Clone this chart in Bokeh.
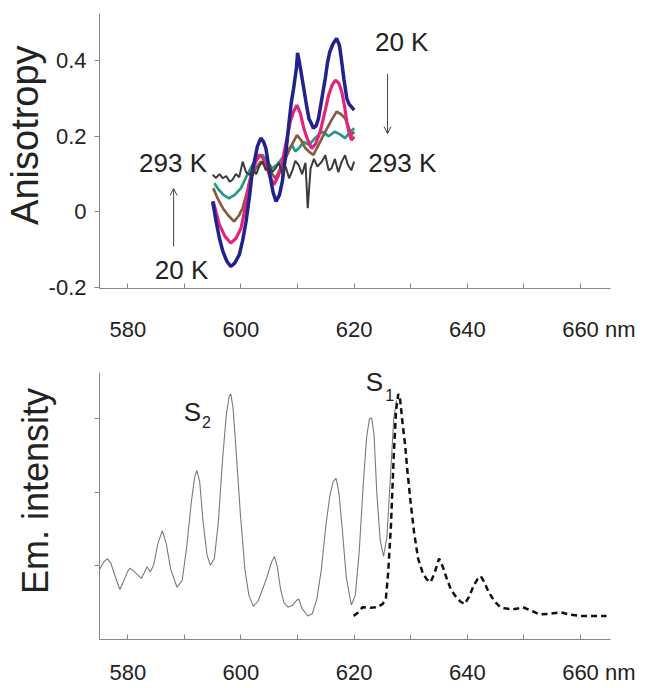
import math
from bokeh.plotting import figure
from bokeh.models import Range1d, FixedTicker, Label, Arrow, OpenHead
from bokeh.layouts import column
from bokeh.embed import file_html
from bokeh.resources import INLINE

# ---------------- data ----------------
# Top panel: anisotropy vs wavelength (nm) at several temperatures
blue_x = [595.0, 595.6, 596.2, 596.8, 597.5, 598.2, 598.9, 599.7, 600.3, 600.9, 601.5, 602.0, 602.9, 603.5, 604.0, 604.4,
          604.8, 605.2, 605.7, 606.2, 606.8, 607.3, 607.9, 608.5, 608.9, 609.3, 609.8, 610.0, 610.2, 610.5, 611.1, 611.6,
          612.0, 612.4, 612.8, 613.3, 613.7, 614.3, 614.9, 615.3, 615.7, 616.3, 616.9, 617.4, 617.8, 618.2, 618.7, 619.1,
          619.5, 620.0]
blue_y = [0.028, -0.025, -0.070, -0.104, -0.130, -0.144, -0.135, -0.113, -0.075, -0.025, 0.040, 0.107, 0.173, 0.195, 0.185, 0.168,
          0.130, 0.089, 0.050, 0.028, 0.045, 0.080, 0.150, 0.238, 0.290, 0.326, 0.380, 0.420, 0.405, 0.380, 0.326, 0.280,
          0.247, 0.235, 0.221, 0.228, 0.247, 0.300, 0.353, 0.395, 0.423, 0.445, 0.458, 0.440, 0.397, 0.350, 0.300, 0.285,
          0.278, 0.269]

pink_x = [595.1, 595.6, 596.2, 597.2, 598.2, 599.1, 600.0, 600.8, 601.5, 602.4, 603.2, 603.8, 604.4, 605.1, 605.8, 606.6,
          607.3, 608.0, 608.7, 609.3, 609.9, 610.5, 611.1, 611.8, 612.5, 613.2, 614.0, 614.8, 615.5, 616.1, 616.7, 617.3,
          617.8, 618.3, 618.7, 619.1, 619.5, 620.0]
pink_y = [0.028, 0.000, -0.034, -0.065, -0.082, -0.070, -0.043, 0.015, 0.080, 0.125, 0.151, 0.145, 0.124, 0.095, 0.072, 0.095,
          0.133, 0.185, 0.238, 0.265, 0.282, 0.260, 0.221, 0.190, 0.168, 0.180, 0.212, 0.262, 0.309, 0.335, 0.348, 0.340,
          0.318, 0.280, 0.238, 0.210, 0.190, 0.199]

brown_x = [595.1, 595.9, 596.8, 597.8, 598.8, 599.6, 600.3, 601.0, 601.7, 602.6, 603.5, 604.3, 605.0, 605.6, 606.1, 607.0,
           607.9, 608.9, 609.9, 610.6, 611.4, 612.1, 612.8, 613.8, 614.9, 615.9, 616.9, 617.7, 618.4, 619.0, 619.5, 620.0]
brown_y = [0.063, 0.035, 0.010, -0.010, -0.025, -0.010, 0.010, 0.050, 0.089, 0.115, 0.133, 0.125, 0.111, 0.098, 0.089, 0.115,
           0.142, 0.175, 0.203, 0.190, 0.168, 0.158, 0.151, 0.180, 0.212, 0.240, 0.265, 0.258, 0.247, 0.225, 0.203, 0.212]

teal_x = [595.3, 596.0, 596.9, 597.9, 598.9, 600.0, 601.0, 602.0, 602.9, 603.8, 604.6, 605.5, 606.4, 607.3, 608.2, 609.0,
          609.6, 610.2, 611.1, 612.0, 613.1, 614.3, 615.5, 616.6, 617.5, 618.4, 619.2, 620.0]
teal_y = [0.076, 0.060, 0.045, 0.036, 0.045, 0.063, 0.095, 0.124, 0.140, 0.151, 0.135, 0.115, 0.125, 0.142, 0.160, 0.177,
          0.160, 0.168, 0.185, 0.177, 0.195, 0.212, 0.200, 0.212, 0.205, 0.195, 0.210, 0.221]

gray_x = [595.0, 595.6, 596.2, 596.8, 597.4, 598.0, 598.5, 599.1, 599.7, 600.3, 600.9, 601.5, 602.1, 602.7, 603.2, 603.8,
          604.4, 605.0, 605.5, 606.1, 606.7, 607.3, 607.9, 608.5, 609.1, 609.6, 610.2, 610.8, 611.4, 611.8, 612.3, 612.9,
          613.5, 614.3, 614.9, 615.5, 616.0, 616.6, 617.2, 617.8, 618.4, 618.9, 619.5, 620.0]
gray_y = [0.098, 0.090, 0.100, 0.089, 0.095, 0.080, 0.085, 0.100, 0.092, 0.133, 0.105, 0.098, 0.112, 0.100, 0.120, 0.133,
          0.110, 0.125, 0.105, 0.115, 0.130, 0.100, 0.120, 0.089, 0.110, 0.135, 0.124, 0.100, 0.130, 0.010, 0.115, 0.140,
          0.120, 0.133, 0.150, 0.110, 0.115, 0.140, 0.105, 0.133, 0.150, 0.124, 0.110, 0.133]

# Bottom panel: emission intensity (arbitrary units)
em_x = [575.0, 575.7, 576.4, 577.0, 577.8, 578.6, 579.3, 580.0, 580.4, 581.2, 582.4, 583.0, 583.4, 584.0, 584.6, 585.3,
        586.1, 586.8, 587.6, 588.7, 589.6, 590.4, 591.2, 591.8, 592.2, 592.7, 593.3, 594.0, 594.6, 595.3, 596.0, 596.7,
        597.4, 597.9, 598.2, 598.6, 599.2, 599.9, 600.7, 601.4, 602.2, 603.0, 603.8, 604.6, 605.4, 605.9, 606.4, 607.0,
        607.6, 608.3, 609.2, 609.8, 610.2, 610.8, 611.8, 612.6, 613.4, 614.2, 615.0, 615.7, 616.3, 616.8, 617.3, 617.9,
        618.6, 619.5, 620.2, 620.9, 621.6, 622.2, 622.7, 623.1, 623.5, 624.0, 624.6, 625.2, 625.8, 626.4, 627.0, 627.5]
em_y = [0.95, 1.05, 1.10, 1.04, 0.85, 0.68, 0.80, 0.93, 0.97, 0.92, 0.83, 0.92, 0.99, 0.92, 1.02, 1.30,
        1.48, 1.30, 0.95, 0.71, 0.80, 1.25, 1.85, 2.20, 2.30, 2.15, 1.60, 1.15, 1.01, 1.10, 1.60, 2.40,
        3.05, 3.30, 3.34, 3.15, 2.50, 1.70, 0.95, 0.60, 0.45, 0.52, 0.68, 0.85, 1.05, 1.13, 1.00, 0.68,
        0.50, 0.44, 0.47, 0.53, 0.55, 0.42, 0.32, 0.35, 0.55, 0.95, 1.55, 1.95, 2.15, 2.19, 2.00, 1.50,
        0.85, 0.47, 0.60, 1.20, 2.10, 2.75, 3.00, 3.01, 2.80, 2.00, 1.35, 1.13, 1.40, 2.20, 3.00, 3.25]

dash_x = [619.9, 620.6, 621.5, 622.8, 624.1, 625.0, 625.6, 626.0, 626.5, 627.0, 627.4, 627.8, 628.1, 628.5, 629.0, 629.4,
          630.0, 630.6, 631.3, 632.1, 632.8, 633.5, 634.2, 635.0, 635.6, 636.4, 637.1, 637.9, 638.7, 639.5, 640.3, 641.1,
          641.8, 642.4, 643.0, 643.8, 644.8, 645.8, 646.9, 647.9, 648.9, 649.8, 651.0, 652.8, 654.5, 656.4, 658.0, 659.9,
          662.0, 664.6]
dash_y = [0.32, 0.36, 0.44, 0.43, 0.44, 0.48, 0.55, 0.90, 1.54, 2.50, 3.11, 3.34, 3.28, 2.98, 2.65, 2.30,
          1.85, 1.45, 1.10, 0.91, 0.82, 0.78, 0.90, 1.10, 1.00, 0.82, 0.68, 0.59, 0.52, 0.48, 0.58, 0.73,
          0.82, 0.86, 0.78, 0.64, 0.52, 0.44, 0.42, 0.41, 0.42, 0.44, 0.40, 0.34, 0.35, 0.37, 0.34, 0.32,
          0.32, 0.32]

NB = "\u00a0"
x_ticks = [580, 590, 600, 610, 620, 630, 640, 650, 660]
x_tick_labels = {580: "580", 590: "", 600: "600", 610: "", 620: "620", 630: "", 640: "640", 650: "",
                 660: NB * 6 + "660 nm"}
top_y_ticks = [-0.2, 0, 0.2, 0.4]
top_y_labels = {-0.2: "-0.2", 0: "0", 0.2: "0.2", 0.4: "0.4"}
bot_y_ticks = [1, 2, 3]

FONT = "Liberation Sans"
AX = "#858585"
TXT = "#222222"
W = 644
BL = 96
FW = 514


def style_axes(p, yticks, ylabels):
    xa = p.xaxis[0]
    xa.ticker = FixedTicker(ticks=x_ticks)
    xa.major_label_overrides = x_tick_labels
    xa.major_tick_in = 5
    xa.major_tick_out = 0
    xa.minor_tick_line_color = None
    xa.axis_line_color = AX
    xa.major_tick_line_color = AX
    xa.major_label_text_font = FONT
    xa.major_label_text_font_size = "22px"
    xa.major_label_text_color = TXT
    ya = p.yaxis[0]
    ya.ticker = FixedTicker(ticks=yticks)
    ya.major_label_overrides = ylabels
    ya.major_tick_in = 0
    ya.major_tick_out = 5
    ya.minor_tick_line_color = None
    ya.axis_line_color = AX
    ya.major_tick_line_color = AX
    ya.major_label_text_font = FONT
    ya.major_label_text_font_size = "22px"
    ya.major_label_text_color = TXT
    ya.axis_label_text_font = FONT
    ya.axis_label_text_font_style = "normal"
    ya.axis_label_text_color = TXT
    p.xgrid.grid_line_color = None
    p.ygrid.grid_line_color = None
    p.outline_line_color = None


def lab(p, x, y, t, size, align="center"):
    p.add_layout(Label(x=x, y=y, text=t, text_font=FONT, text_font_size=size, text_color=TXT,
                       text_align=align, text_baseline="middle"))


# ---------------- top figure ----------------
p1 = figure(width=W, height=346, x_range=Range1d(575, 665.3), y_range=Range1d(-0.202, 0.524),
            output_backend="svg", toolbar_location=None,
            min_border_left=BL, min_border_right=W - BL - FW, min_border_top=13, min_border_bottom=58)
style_axes(p1, top_y_ticks, top_y_labels)
p1.xaxis[0].major_label_standoff = 28
p1.yaxis[0].major_label_standoff = 8
p1.yaxis[0].axis_label = NB * 3 + "Anisotropy"
p1.yaxis[0].axis_label_text_font_size = "38px"
p1.yaxis[0].axis_label_standoff = 0

p1.line(teal_x, teal_y, line_color="#1f9a8c", line_width=2.7)
p1.line(brown_x, brown_y, line_color="#8a5a40", line_width=2.7)
p1.line(pink_x, pink_y, line_color="#e2247c", line_width=3.2)
p1.line(blue_x, blue_y, line_color="#22228e", line_width=3.5)
p1.line(gray_x, gray_y, line_color="#3b3b3b", line_width=2.0)

lab(p1, 628.4, 0.449, "20 K", "26px")
lab(p1, 628.5, 0.130, "293 K", "26px")
lab(p1, 588.0, 0.130, "293 K", "26px")
lab(p1, 589.5, -0.154, "20 K", "26px")
p1.add_layout(Arrow(end=OpenHead(size=7, line_color="#444444", line_width=1), x_start=625.9, y_start=0.365,
                    x_end=625.9, y_end=0.207, line_color="#444444", line_width=1))
p1.add_layout(Arrow(end=OpenHead(size=7, line_color="#444444", line_width=1), x_start=588.1, y_start=-0.091,
                    x_end=588.1, y_end=0.062, line_color="#444444", line_width=1))

# ---------------- bottom figure ----------------
p2 = figure(width=W, height=341, x_range=Range1d(575, 665.3), y_range=Range1d(0, 3.63),
            output_backend="svg", toolbar_location=None,
            min_border_left=BL, min_border_right=W - BL - FW, min_border_top=26, min_border_bottom=46)
style_axes(p2, bot_y_ticks, {1: "", 2: "", 3: ""})
p2.xaxis[0].major_label_standoff = 20
p2.yaxis[0].major_label_standoff = 0
p2.yaxis[0].axis_label = NB * 3 + "Em. intensity"
p2.yaxis[0].axis_label_text_font_size = "36px"
p2.yaxis[0].axis_label_standoff = 39

p2.line(em_x, em_y, line_color="#7a7a7a", line_width=1.1)
p2.line(dash_x, dash_y, line_color="#111111", line_width=2.5, line_dash="6 4")

lab(p2, 591.4, 3.09, "S", "26px")
lab(p2, 593.9, 2.96, "2", "16px")
lab(p2, 623.6, 3.50, "S", "26px")
lab(p2, 626.3, 3.33, "1", "16px")

layout = column(p1, p2)
open("out.html", "w").write(file_html(layout, INLINE))
